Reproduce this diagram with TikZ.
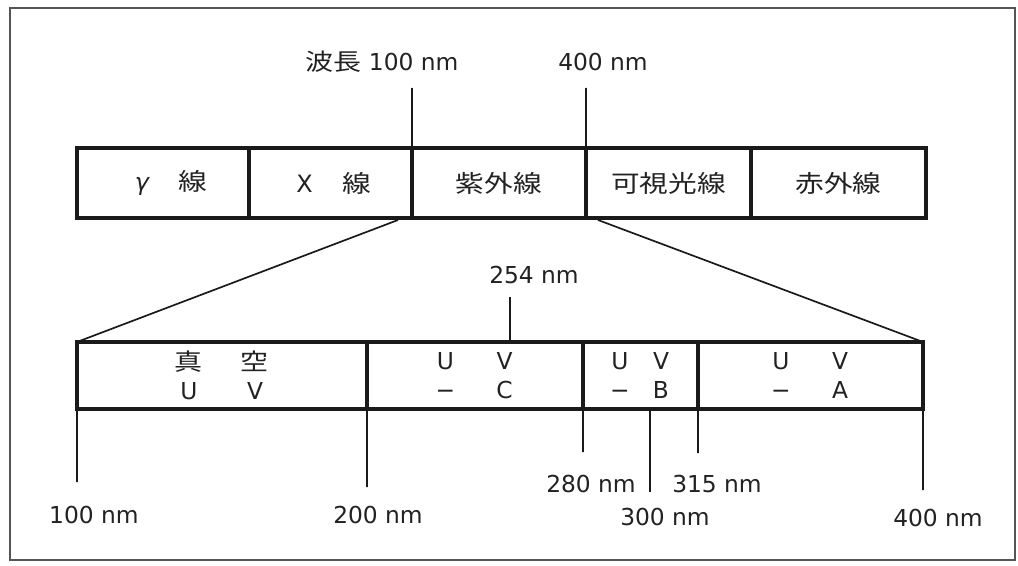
\documentclass[tikz,border=0pt]{standalone}
\usepackage{fontspec}
\setmainfont{DejaVu Sans}
\newfontfamily\jp[FakeStretch=1.2]{Noto Sans CJK JP}
\newcommand{\lpair}[3]{\makebox[0pt]{#1}\hspace{#3}\makebox[0pt]{#2}}
\definecolor{ink}{HTML}{1A1A1A}
\definecolor{txt}{HTML}{222222}
\definecolor{framec}{HTML}{555555}
\tikzset{
  cell/.style={draw=ink, line width=2.5pt, inner sep=0pt, outer sep=0pt, text=txt},
  topcell/.style={cell, minimum height=1.75cm, font=\jp\fontsize{17}{20}\selectfont},
  botcell/.style={cell, minimum height=1.675cm, align=center, font=\fontsize{16.6}{20.5}\selectfont},
  lbl/.style={text=txt, inner sep=0pt, font=\fontsize{16.6}{20}\selectfont},
  tick/.style={draw=ink, line width=1.2pt},
  frameline/.style={draw=framec, line width=1.4pt}
}
\begin{document}
\begin{tikzpicture}[x=0.025cm,y=-0.025cm]
\useasboundingbox (0,0) rectangle (1018,565);
\draw[frameline] (10,8) rectangle (1015,560);

% top band
\node[topcell, minimum width=4.3cm]   (gam) at (163,183)
  {\hspace{0.225cm}\lpair{\fontspec{DejaVu Sans}\itshape γ}{線}{1.275cm}};
\node[topcell, minimum width=4.075cm] (xr)  at (330.5,183)
  {\lpair{\fontspec{DejaVu Sans}X}{線}{1.3cm}};
\node[topcell, minimum width=4.35cm]  (uv)  at (499,183)   {紫外線};
\node[topcell, minimum width=4.125cm] (vis) at (668.5,183) {可視光線};
\node[topcell, minimum width=4.375cm] (ir)  at (838.5,183) {赤外線};

% top labels
\node[lbl] (l100) at (382,62) {{\jp 波長} 100 nm};
\node[lbl] (l400) at (603,62) {400 nm};
\coordinate (a100) at (412,88);
\coordinate (a400) at (586,88);
\draw[tick] (a100) -- (uv.north west);
\draw[tick] (a400) -- (uv.north east);

% bottom band
\node[botcell, minimum width=7.25cm]  (vac) at (222,375.5)
  {\lpair{\jp 真}{\jp 空}{1.65cm}\\\lpair{U}{V}{1.65cm}};
\node[botcell, minimum width=5.4cm]   (uvc) at (475,375.5)
  {\lpair{U}{V}{1.475cm}\\\lpair{−}{C}{1.475cm}};
\node[botcell, minimum width=2.875cm] (uvb) at (640.5,375.5)
  {\lpair{U}{V}{1.025cm}\\\lpair{−}{B}{1.025cm}};
\node[botcell, minimum width=5.625cm] (uva) at (810.5,375.5)
  {\lpair{U}{V}{1.475cm}\\\lpair{−}{A}{1.475cm}};

% expansion lines
\coordinate (dl) at (398,220);
\coordinate (dr) at (598,220);
\draw[tick] (dl) -- (vac.north west);
\draw[tick] (dr) -- (uva.north east);

% 254 nm
\node[lbl] (l254) at (534,275) {254 nm};
\coordinate (a254) at (510,297);
\draw[tick] (a254) -- (a254 |- uvc.north);

% bottom ticks
\coordinate (e100) at (77,482);
\coordinate (e200) at (367,487);
\coordinate (e280) at (583,452);
\coordinate (s300) at (650,409);
\coordinate (e300) at (650,492);
\coordinate (e315) at (698,453);
\coordinate (e400) at (923,490);
\draw[tick] (vac.south west) -- (e100);
\draw[tick] (vac.south east) -- (e200);
\draw[tick] (uvb.south west) -- (e280);
\draw[tick] (s300) -- (e300);
\draw[tick] (uvb.south east) -- (e315);
\draw[tick] (uva.south east) -- (e400);

\node[lbl] (b100) at (94,515)  {100 nm};
\node[lbl] (b200) at (378,515) {200 nm};
\node[lbl] (b280) at (591,484) {280 nm};
\node[lbl] (b315) at (717,484) {315 nm};
\node[lbl] (b300) at (665,517) {300 nm};
\node[lbl] (b400) at (938,518) {400 nm};
\end{tikzpicture}
\end{document}
